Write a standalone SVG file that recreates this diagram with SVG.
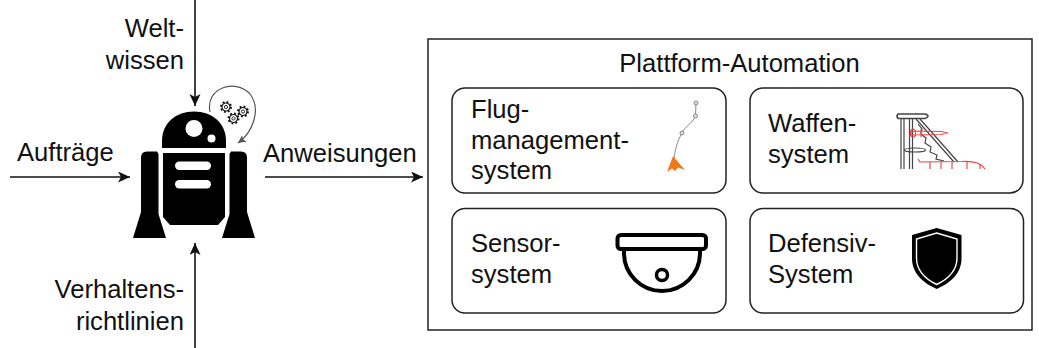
<svg xmlns="http://www.w3.org/2000/svg" width="1039" height="348" viewBox="0 0 1039 348">
  <style>
    text { font-family: "Liberation Sans", Arial, sans-serif; font-size: 25.6px; fill: #111; }
    .lbl-r { text-anchor: end; }
    .box { fill: #fff; stroke: #222; stroke-width: 1.5; }
    .edge { fill: none; stroke: #111; stroke-width: 1.6; }
    .ink { fill: #000; }
    .hole { fill: #fff; }
  </style>
  <defs>
    <marker id="arrow" markerUnits="userSpaceOnUse" markerWidth="14" markerHeight="12" refX="12" refY="5.5" orient="auto">
      <path d="M0,0 L12,5.5 L0,11 L3,5.5 Z" fill="#111"/>
    </marker>
    <marker id="arrowGrey" markerUnits="userSpaceOnUse" markerWidth="10" markerHeight="10" refX="8" refY="4" orient="auto">
      <path d="M0,0 L8,4 L0,8 L2,4 Z" fill="#555"/>
    </marker>
    <!-- small cog: dashed ring gives the teeth -->
    <g id="gear">
      <circle r="5" fill="none" stroke="#111" stroke-width="2" stroke-dasharray="1.8 2.12"/>
      <circle r="4" fill="#fff" stroke="#111" stroke-width="1.2"/>
      <circle r="1.6" fill="#fff" stroke="#111" stroke-width="0.9"/>
    </g>
  </defs>

  <rect width="1039" height="348" fill="#fff"/>

  <!-- connectors -->
  <g id="connectors">
    <line class="edge" x1="195" y1="0" x2="195" y2="106" marker-end="url(#arrow)"/>
    <line class="edge" x1="195" y1="348" x2="195" y2="243" marker-end="url(#arrow)"/>
    <line class="edge" x1="10" y1="177" x2="130" y2="177" marker-end="url(#arrow)"/>
    <line class="edge" x1="265" y1="177" x2="423" y2="177" marker-end="url(#arrow)"/>
    <!-- reasoning loop above the robot -->
    <path d="M210,112 C205,88 235,78 250,94 C262,110 252,133 238,143" fill="none" stroke="#555" stroke-width="1.2" marker-end="url(#arrowGrey)"/>
  </g>

  <!-- input / output labels -->
  <g id="label-weltwissen">
    <text class="lbl-r" x="184" y="37">Welt-</text>
    <text class="lbl-r" x="184" y="69">wissen</text>
  </g>
  <g id="label-auftraege">
    <text x="17" y="161">Aufträge</text>
  </g>
  <g id="label-verhalten">
    <text class="lbl-r" x="184" y="298">Verhaltens-</text>
    <text class="lbl-r" x="184" y="330">richtlinien</text>
  </g>
  <g id="label-anweisungen">
    <text x="263" y="162">Anweisungen</text>
  </g>

  <!-- robot agent -->
  <g id="robot">
    <path class="ink" d="M162,148 L162,141 C162,123 176,111.5 194,111.5 C212,111.5 226,123 226,141 L226,148 Z"/>
    <circle class="hole" cx="194" cy="128.5" r="8.5"/>
    <circle class="hole" cx="211.5" cy="138.5" r="4"/>
    <path class="ink" d="M163,153 L225,153 L225,217 L218,225 L170,225 L163,217 Z"/>
    <rect class="hole" x="175" y="161.5" width="36" height="8.5" rx="4.2"/>
    <rect class="hole" x="175" y="180" width="36" height="8.5" rx="4.2"/>
    <path class="ink" d="M147,151.5 L157,151.5 L158.5,154 L158.5,214 L166,238 L133,238 L141,212 L141,157.5 Q141,151.5 147,151.5 Z"/>
    <path class="ink" d="M241,151.5 L231,151.5 L229.5,154 L229.5,214 L222,238 L255,238 L247,212 L247,157.5 Q247,151.5 241,151.5 Z"/>
    <use href="#gear" x="226" y="107"/>
    <use href="#gear" x="243" y="111.5"/>
    <use href="#gear" x="233.5" y="118.5"/>
  </g>

  <!-- platform automation container -->
  <g id="plattform-automation">
    <rect class="box" x="428" y="39" width="604" height="291"/>
    <text x="739.5" y="72" text-anchor="middle">Plattform-Automation</text>
  </g>

  <g id="flugmanagement">
    <rect class="box" x="452" y="88" width="274" height="105" rx="13"/>
    <text x="471" y="118">Flug-</text>
    <text x="471" y="149">management-</text>
    <text x="471" y="179">system</text>
    <path d="M696,103 L695.5,116 C692,124 684,127 682,133 C677,142 675,150 674,159" fill="none" stroke="#888" stroke-width="1"/>
    <g fill="#ddd" stroke="#888" stroke-width="1">
      <circle cx="696" cy="103" r="2"/>
      <circle cx="695.5" cy="116" r="2"/>
      <circle cx="682" cy="133" r="2"/>
    </g>
    <path d="M673,156 L667,172 L672,168.5 L675,171 L678,167.5 L685,170 Z" fill="#f07a1a"/>
  </g>

  <g id="waffensystem">
    <rect class="box" x="750" y="88" width="273" height="105" rx="13"/>
    <text x="768" y="132">Waffen-</text>
    <text x="768" y="163">system</text>
    <g fill="none" stroke="#444" stroke-width="1.2">
      <path d="M898,114 L925,114 Q931,116 925,118.5 L898,118.5 Q896,116 898,114 Z" stroke-width="1.6"/>
      <line x1="901" y1="118.5" x2="901" y2="169"/>
      <line x1="904" y1="118.5" x2="904" y2="169"/>
      <line x1="909.5" y1="118.5" x2="909.5" y2="169"/>
      <line x1="912.5" y1="118.5" x2="912.5" y2="169"/>
      <line x1="916" y1="119" x2="954" y2="162"/>
      <line x1="920" y1="119" x2="958" y2="162"/>
      <path d="M918,124 L922,129 L921,134 L926,138 L925,143 L931,147 L930,152 L937,155 L936,159 L944,161"/>
      <ellipse cx="915" cy="150" rx="10.5" ry="2"/>
    </g>
    <g fill="none" stroke="#e54848" stroke-width="1.2">
      <path d="M911,131 L941,131.5 L948,133 L941,134.5 L911,135 Z"/>
      <ellipse cx="913" cy="133" rx="2.5" ry="4"/>
      <line x1="921" y1="129" x2="921" y2="137"/>
      <path d="M918,159 L920,162 L962,161.5 Q980,160.5 985,169"/>
      <line x1="930" y1="162" x2="930" y2="169"/>
      <line x1="941" y1="162" x2="941" y2="169"/>
      <line x1="952" y1="162" x2="952" y2="169"/>
      <line x1="967" y1="161.5" x2="967" y2="169"/>
      <line x1="980" y1="164" x2="980" y2="169"/>
    </g>
  </g>

  <g id="sensorsystem">
    <rect class="box" x="452" y="208.5" width="274" height="104.5" rx="13"/>
    <text x="471" y="252">Sensor-</text>
    <text x="471" y="283">system</text>
    <g fill="none" stroke="#000" stroke-width="4">
      <rect x="617.5" y="235" width="88.5" height="14" rx="3.5"/>
      <path d="M624,249 L624,253 A38,38 0 0 0 700,253 L700,249"/>
      <circle cx="662" cy="275" r="5.5" stroke-width="3.5"/>
    </g>
  </g>

  <g id="defensivsystem">
    <rect class="box" x="750" y="208.5" width="273.5" height="104.5" rx="13"/>
    <text x="768" y="252">Defensiv-</text>
    <text x="768" y="283">System</text>
    <path d="M936.7,228 L961.5,235 L961.5,258 C961.5,274 950,283 936.7,289 C923.4,283 912,274 912,258 L912,235 Z" fill="#000"/>
    <path d="M936.7,233 L957,239 L957,258 C957,271 948,279 936.7,284.5 C925.4,279 916.5,271 916.5,258 L916.5,239 Z" fill="none" stroke="#fff" stroke-width="1.4"/>
  </g>
</svg>
